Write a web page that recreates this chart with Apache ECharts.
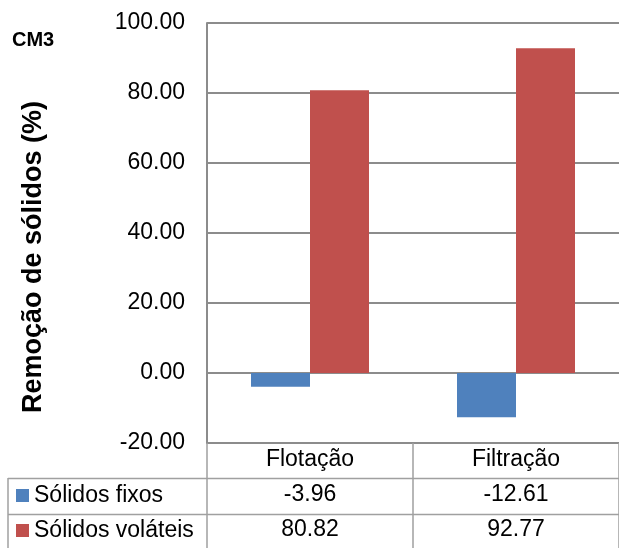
<!DOCTYPE html>
<html>
<head>
<meta charset="utf-8">
<script src="https://cdn.jsdelivr.net/npm/echarts@6/dist/echarts.min.js"></script>
<style>
  html, body { margin: 0; padding: 0; background: #fff; }
  #chart { width: 619px; height: 548px; }
</style>
</head>
<body>
<div id="chart"></div>
<script>
// Processes and removal results (%)
const categories = ['Flotação', 'Filtração'];
const seriesNames = ['Sólidos fixos', 'Sólidos voláteis'];
const fixos = [-3.96, -12.61];
const volateis = [80.82, 92.77];
const yTicks = [-20, 0, 20, 40, 60, 80, 100];

const FONT = 'Arial, "Liberation Sans", sans-serif';
const GRID_COLOR = '#8c8c8c';
const TABLE_COLOR = '#a0a0a0';
const fmt = v => v.toFixed(2);

const chart = echarts.init(document.getElementById('chart'), null, { renderer: 'canvas' });

// Plain category axis used for the value rows of the data table
function rowAxis(values, offset) {
  return {
    type: 'category',
    gridIndex: 0,
    position: 'bottom',
    offset: offset,
    data: values.map(fmt),
    axisLine: { show: false },
    axisTick: { show: false },
    splitLine: { show: false },
    axisLabel: {
      margin: 17, verticalAlign: 'middle', interval: 0,
      fontFamily: FONT, fontSize: 23, color: '#000'
    }
  };
}

// One legend key per table row
function rowLegend(name, top) {
  return {
    left: 16, top: top, padding: 0,
    itemWidth: 13, itemHeight: 13,
    icon: 'rect',
    data: [name],
    selectedMode: false,
    textStyle: { fontFamily: FONT, fontSize: 23, color: '#000' }
  };
}

chart.setOption({
  animation: false,
  backgroundColor: '#ffffff',
  title: {
    text: 'CM3', left: 12, top: 30, padding: 0,
    textStyle: { fontFamily: FONT, fontSize: 20, fontWeight: 'bold', color: '#000' }
  },
  legend: [rowLegend(seriesNames[0], 484), rowLegend(seriesNames[1], 519)],
  grid: { left: 207, top: 23, height: 420, right: -4, containLabel: false },
  xAxis: [
    {
      type: 'category',
      data: categories,
      position: 'bottom',
      axisLine: { show: true, onZero: false, lineStyle: { color: GRID_COLOR, width: 2 } },
      axisTick: { show: true, interval: 0, length: 105, lineStyle: { color: TABLE_COLOR, width: 1.5 } },
      axisLabel: {
        margin: 17, verticalAlign: 'middle', interval: 0,
        fontFamily: FONT, fontSize: 23, color: '#000'
      }
    },
    rowAxis(fixos, 35),
    rowAxis(volateis, 70)
  ],
  yAxis: {
    type: 'value',
    min: yTicks[0], max: yTicks[yTicks.length - 1], interval: 20,
    axisLine: { show: true, lineStyle: { color: GRID_COLOR, width: 2 } },
    axisTick: { show: false },
    splitLine: { show: true, lineStyle: { color: GRID_COLOR, width: 2 } },
    axisLabel: {
      margin: 22, fontFamily: FONT, fontSize: 23, color: '#000',
      formatter: v => fmt(v)
    }
  },
  series: [
    {
      name: seriesNames[0], type: 'bar', xAxisIndex: 0,
      data: fixos, barWidth: 59, barGap: '0%',
      itemStyle: { color: '#4F81BD' }
    },
    {
      name: seriesNames[1], type: 'bar', xAxisIndex: 0,
      data: volateis, barWidth: 59, barGap: '0%',
      itemStyle: { color: '#C0504D' }
    }
  ],
  graphic: [
    {
      type: 'text',
      x: 34, y: 257, rotation: Math.PI / 2,
      style: {
        text: 'Remoção de sólidos (%)',
        font: 'bold 27px ' + FONT, fill: '#000',
        textAlign: 'center', textVerticalAlign: 'middle'
      }
    },
    // data table rules
    { type: 'line', shape: { x1: 8, y1: 478.5, x2: 619, y2: 478.5 }, style: { stroke: TABLE_COLOR, lineWidth: 1.5 } },
    { type: 'line', shape: { x1: 8, y1: 514.5, x2: 619, y2: 514.5 }, style: { stroke: TABLE_COLOR, lineWidth: 1.5 } },
    { type: 'line', shape: { x1: 8, y1: 478, x2: 8, y2: 548 }, style: { stroke: TABLE_COLOR, lineWidth: 1.5 } }
  ]
});
</script>
</body>
</html>
